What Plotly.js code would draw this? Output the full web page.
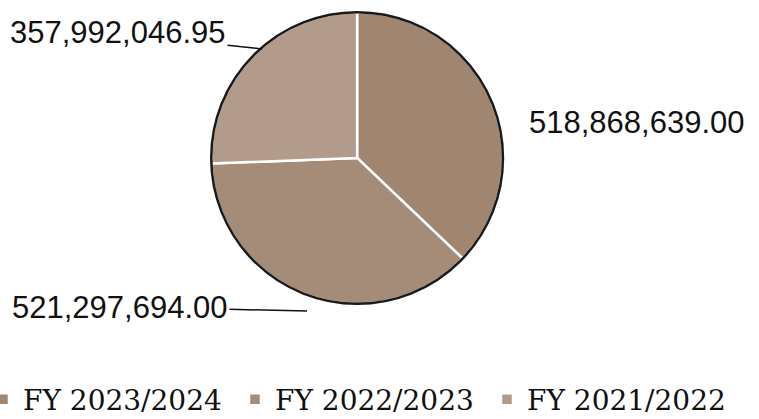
<!DOCTYPE html>
<html>
<head>
<meta charset="utf-8">
<script src="https://cdn.plot.ly/plotly-3.0.1.min.js"></script>
<style>html,body{margin:0;padding:0;background:#fff;}#chart{width:759px;height:419px;}</style>
</head>
<body>
<div id="chart"></div>
<script>
const categories = ["FY 2023/2024", "FY 2022/2023", "FY 2021/2022"];
const values = [518868639.00, 521297694.00, 357992046.95];
const sliceColors = ["#a08671", "#a58c79", "#b39b8c"];

function fmt(v) {
  return v.toLocaleString("en-US", {minimumFractionDigits: 2, maximumFractionDigits: 2});
}

const domain = {x: [0.278, 0.663], y: [0.275, 0.971]};

const pie = {
  type: "pie",
  labels: categories,
  values: values,
  sort: false,
  direction: "clockwise",
  rotation: 0,
  domain: domain,
  marker: {colors: sliceColors, line: {color: "#ffffff", width: 2.5}},
  textinfo: "none",
  hoverinfo: "label+value",
  showlegend: true
};

const outline = {
  type: "pie",
  labels: ["outline"],
  values: [values.reduce((a, b) => a + b, 0)],
  domain: domain,
  marker: {colors: ["rgba(0,0,0,0)"], line: {color: "#1a1a1a", width: 2.5}},
  textinfo: "none",
  hoverinfo: "skip",
  showlegend: false
};

const labelFont = {family: "Liberation Sans, Arial, sans-serif", size: 31, color: "#111"};

const layout = {
  width: 759,
  height: 419,
  margin: {l: 0, r: 0, t: 0, b: 0, autoexpand: false},
  paper_bgcolor: "#ffffff",
  showlegend: true,
  legend: {
    orientation: "h",
    x: -0.0224,
    y: -0.013,
    xanchor: "left",
    yanchor: "bottom",
    font: {family: "DejaVu Serif, serif", size: 28, color: "#111"},
    traceorder: "normal",
    borderwidth: 0,
    entrywidth: 207,
    entrywidthmode: "pixels"
  },
  annotations: [
    {
      text: fmt(values[2]), font: labelFont, xref: "paper", yref: "paper",
      x: 262 / 759, y: 1 - 49 / 419, ax: -144, ay: -16,
      showarrow: true, arrowhead: 0, arrowwidth: 1.5, arrowcolor: "#111"
    },
    {
      text: fmt(values[0]), font: labelFont, xref: "paper", yref: "paper",
      x: 527 / 759, y: 1 - 122 / 419, xanchor: "left", yanchor: "middle", showarrow: false
    },
    {
      text: fmt(values[1]), font: labelFont, xref: "paper", yref: "paper",
      x: 307 / 759, y: 1 - 311 / 419, ax: -187, ay: -4,
      showarrow: true, arrowhead: 0, arrowwidth: 1.5, arrowcolor: "#111"
    }
  ]
};

Plotly.newPlot("chart", [pie, outline], layout, {displayModeBar: false, staticPlot: true});
</script>
</body>
</html>
